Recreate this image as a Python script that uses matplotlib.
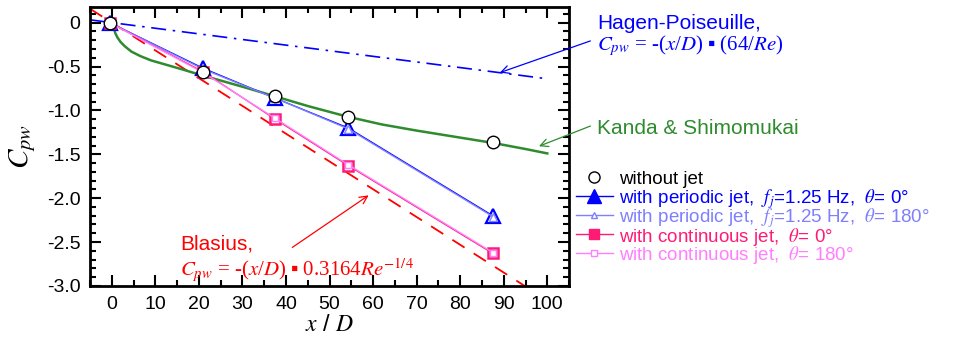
import matplotlib
matplotlib.use("Agg")
import matplotlib.pyplot as plt
from matplotlib.lines import Line2D
from matplotlib.ticker import MultipleLocator

plt.rcParams["font.family"] = ["Liberation Sans", "DejaVu Sans"]
plt.rcParams["mathtext.fontset"] = "stix"

# Measured pressure coefficient along the pipe
x_meas = [-0.5, 21.0, 37.5, 54.3, 87.5]
cp_no_jet = [0.0, -0.56, -0.84, -1.07, -1.36]
cp_periodic_0 = [0.0, -0.52, -0.86, -1.20, -2.20]
cp_periodic_180 = [0.0, -0.53, -0.86, -1.21, -2.21]
cp_continuous_0 = [0.0, -0.56, -1.10, -1.63, -2.63]
cp_continuous_180 = [0.0, -0.57, -1.09, -1.62, -2.62]

# Reference correlations (Re = 10000)
x_hp = [-5.0, 100.0]
cp_hp = [0.032, -0.64]
x_blasius = [-5.0, 100.0]
cp_blasius = [0.158, -3.164]
x_kanda = [0.5, 0.8, 1.3, 2.0, 3.0, 4.5, 6.5, 9.0, 12.5, 16.0, 20.0, 25.0,
           30.0, 37.5, 45.0, 54.0, 62.0, 70.0, 80.0, 87.5, 95.0, 100.0]
cp_kanda = [-0.07, -0.12, -0.17, -0.22, -0.27, -0.33, -0.38, -0.43, -0.48,
            -0.53, -0.59, -0.66, -0.73, -0.84, -0.95, -1.07, -1.16, -1.23,
            -1.31, -1.37, -1.44, -1.49]

BLUE = "#0000ff"
LBLUE = "#7f7fff"
PINK = "#ff1a75"
LPINK = "#ff7fff"
GREEN = "#2e8b2e"
RED = "#ff0000"

W, H = 958, 347
fig = plt.figure(figsize=(W / 100, H / 100), dpi=100)
ax = fig.add_axes([0.094, 0.176, 0.5, 0.803])

ax.plot(x_hp, cp_hp, color=BLUE, lw=1.2, dashes=(9, 4, 1.5, 4))
ax.plot(x_blasius, cp_blasius, color=RED, lw=1.3, dashes=(8, 6))
ax.plot(x_kanda, cp_kanda, color=GREEN, lw=1.8)

ax.plot(x_meas, cp_periodic_0, color=BLUE, lw=0.9, marker="^", ms=10,
        mfc="white", mec=BLUE, mew=1.6)
ax.plot(x_meas, cp_periodic_180, color=LBLUE, lw=1.0, marker="^", ms=6,
        mfc="white", mec=LBLUE, mew=1.0)
ax.plot(x_meas, cp_continuous_0, color=PINK, lw=0.9, marker="s", ms=7.5,
        mfc="white", mec=PINK, mew=1.8)
ax.plot(x_meas, cp_continuous_180, color=LPINK, lw=1.0, marker="s", ms=4.5,
        mfc="white", mec=LPINK, mew=1.0)
ax.plot(x_meas, cp_no_jet, ls="none", marker="o", ms=9,
        mfc="white", mec="black", mew=1.0)

ax.set_xlim(-5, 105)
ax.set_ylim(-3.0, 0.175)
ax.xaxis.set_minor_locator(MultipleLocator(5))
ax.yaxis.set_minor_locator(MultipleLocator(0.1))
ax.set_xticks(range(0, 101, 10))
ax.set_yticks([0, -0.5, -1.0, -1.5, -2.0, -2.5, -3.0])
ax.set_yticklabels(["0", "-0.5", "-1.0", "-1.5", "-2.0", "-2.5", "-3.0"])
ax.tick_params(which="both", direction="in", top=True, right=True,
               labelsize=14, width=1.5)
ax.tick_params(which="major", length=8, pad=7)
ax.tick_params(which="minor", length=4.5)
for s in ax.spines.values():
    s.set_linewidth(2)

ax.set_xlabel(r"$x$ / $D$", fontsize=17, labelpad=1)
ax.set_ylabel(r"$C_{pw}$", fontsize=21, labelpad=6)

# Correlation annotations
fig.text(0.623, 0.915, "Hagen-Poiseuille,", color=BLUE, fontsize=15)
fig.text(0.623, 0.855, r"$C_{pw}$ = -($x$/$D$) ▪ (64/$Re$)", color=BLUE,
         fontsize=15, family="Liberation Serif")
fig.text(0.623, 0.615, "Kanda & Shimomukai", color=GREEN, fontsize=15)
fig.text(0.188, 0.28, "Blasius,", color=RED, fontsize=15)
fig.text(0.188, 0.205, r"$C_{pw}$ = -($x$/$D$) ▪ 0.3164$Re^{-1/4}$",
         color=RED, fontsize=15, family="Liberation Serif")

arrow = dict(arrowstyle="->", lw=0.9, mutation_scale=14)
ax.annotate("", xy=(88.5, -0.58), xytext=(593, H - 40),
            textcoords="figure pixels",
            arrowprops=dict(arrow, color=BLUE))
ax.annotate("", xy=(97.5, -1.42), xytext=(593, H - 125),
            textcoords="figure pixels",
            arrowprops=dict(arrow, color=GREEN))
ax.annotate("", xy=(59.5, -1.95), xytext=(290, H - 249),
            textcoords="figure pixels",
            arrowprops=dict(arrow, color=RED))

# Legend, laid out row by row
labels = [
    "without jet",
    r"with periodic jet,  $f_j$=1.25 Hz,  $\theta$= 0°",
    r"with periodic jet,  $f_j$=1.25 Hz,  $\theta$= 180°",
    r"with continuous jet,  $\theta$= 0°",
    r"with continuous jet,  $\theta$= 180°",
]
colors = ["black", BLUE, LBLUE, PINK, LPINK]
styles = [
    dict(ls="none", marker="o", ms=8, mfc="white", mec="black"),
    dict(color=BLUE, lw=1, marker="^", ms=10, mfc=BLUE, mec=BLUE),
    dict(color=LBLUE, lw=1, marker="^", ms=5, mfc="white", mec=LBLUE),
    dict(color=PINK, lw=1, marker="s", ms=7.5, mfc=PINK, mec=PINK),
    dict(color=LPINK, lw=1, marker="s", ms=4, mfc="white", mec=LPINK),
]
for i, (lab, col, st) in enumerate(zip(labels, colors, styles)):
    yb = 1 - (184.5 + 19 * i) / H
    ym = yb + 7.5 / H
    fig.add_artist(Line2D([576 / W, 594 / W, 613 / W], [ym, ym, ym],
                          markevery=[1], **st))
    fig.text(619 / W, yb, lab, color=col, fontsize=13.5, va="baseline")

fig.savefig("out.png", dpi=100)
